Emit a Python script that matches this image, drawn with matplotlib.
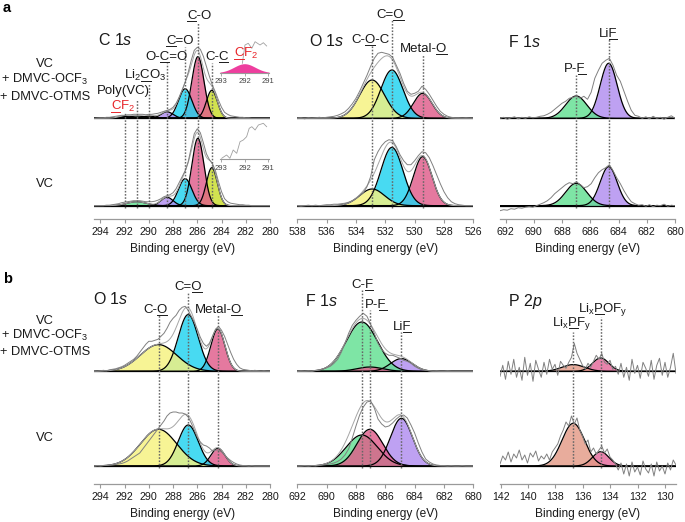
#!/usr/bin/env python3
"""XPS fits (C 1s, O 1s, F 1s, P 2p) for VC vs VC + DMVC-OCF3 + DMVC-OTMS."""

import numpy as np
import matplotlib
matplotlib.use("Agg")
import matplotlib.pyplot as plt
from matplotlib.lines import Line2D

W, H = 685, 522

plt.rcParams["font.family"] = ["Liberation Sans", "DejaVu Sans"]
plt.rcParams["mathtext.fontset"] = "custom"
plt.rcParams["mathtext.rm"] = "Liberation Sans"
plt.rcParams["mathtext.it"] = "Liberation Sans:italic"
plt.rcParams["mathtext.bf"] = "Liberation Sans:bold"

# intensities are read off the picture, in px above each spectrum's baseline
# components are listed in drawing order (later ones sit on top)

# ---- a, C 1s ----
c1s_center = [284.8, 285.95, 287.0, 288.5, 290.0, 291.0, 292.0]
c1s_sigma = [0.45, 0.5, 0.55, 0.5, 0.55, 0.8, 0.5]
c1s_top = [28, 61.7, 29.5, 6.5, 2.2, 2.2, 1.8]
c1s_bot = [38, 67.4, 27, 8.4, 0, 4, 0]
c1s_color = ["#c9dc2a", "#e05c8a", "#20d2f0", "#b08cf0", "#f2ec70", "#62e092", "#c8187a"]
c1s_guide_top = [63, 22, 47, 63, 83, 100, 113]
c1s_raw_top = [0, 0.3, 0.5, 0.5, 1, 1, 1.5, 2, 2.5, 3, 3, 3.5, 3.5, 4, 4, 4, 4, 3.5, 4, 4,
               4.5, 5, 6, 7, 8, 9, 11, 15, 21, 28, 36, 46, 58, 68, 71, 69, 62, 52, 42, 33,
               26, 18, 11, 6, 4, 2.5, 2, 1.5, 1, 1, 0.5, 0.5, 0, 0, 0, 0, 0, 0, 0]
c1s_raw_bot = [0, 0, 0, 0, 0.5, 0.5, 1, 1.5, 2, 3, 3.5, 4, 4.5, 5, 5, 5, 4.5, 4, 4, 4,
               4.5, 5.5, 7, 9, 10, 11, 13, 17, 23, 29, 35, 44, 58, 72, 77, 73, 63, 52, 46, 42,
               35, 24, 14, 7, 4, 2.5, 2, 1.5, 1, 1, 0.5, 0.5, 0, 0, 0, 0, 0, 0, 0]

# C 1s insets (293-291 eV)
ins_cf2_center, ins_cf2_sigma, ins_cf2_h = 292.0, 0.45, 9.0
ins_top_e = [292.09, 291.98, 291.84, 291.69, 291.55, 291.34, 291.2, 291.06]
ins_top_h = [9.4, 27.7, 29.4, 24.4, 31, 27.7, 30, 26.7]
ins_bot_e = [292.97, 292.76, 292.62, 292.48, 292.33, 292.19, 292.05, 291.91, 291.8,
             291.69, 291.55, 291.41, 291.2, 291.06]
ins_bot_h = [0.7, 4, 0.7, 9, 5.7, 17.3, 19, 22.3, 30.7, 32.3, 29, 34, 35.7, 32.3]

# ---- a, O 1s ----
o1a_center = [529.45, 531.55, 532.9]
o1a_sigma = [0.63, 0.75, 0.85]
o1a_top = [25, 48.3, 38.3]
o1a_bot = [49, 58.3, 16.7]
o1a_color = ["#e05c8a", "#20d2f0", "#f6f27e"]
o1a_guide_top = [54, 20, 45]
o1a_raw_top = [0, 0.5, -0.5, 0.5, 0, 0.5, 1, 0.5, 1, 1.5, 2, 3, 4.5, 6.5, 10, 14.5, 20,
               27, 35, 43, 52, 60, 65, 66, 65, 64, 61, 53, 45, 35, 27, 24, 25, 27, 32, 29,
               24, 18, 12, 7, 4, 2, 1, 0.5, 0.5, 0, 0.5, 0, 0]
o1a_raw_bot = [0, -0.5, 0, 0.5, 0, 0.5, 0, 0.5, 1, 1, 1.5, 1.5, 2, 2.5, 3.5, 5, 7, 10,
               13, 19, 29, 46, 54, 60, 64, 66, 65, 59, 51, 45, 41, 41, 45, 50, 54, 53, 48,
               40, 31, 22, 14, 8, 4, 2, 1, 0.5, 0, 0, 0]

# ---- a, F 1s ----
f1a_center = [684.7, 687.0]
f1a_sigma = [0.6, 0.75]
f1a_top = [55, 22.3]
f1a_bot = [39, 22.4]
f1a_color = ["#b08cf0", "#62e092"]
f1a_guide_top = [39, 75]
f1a_raw_top = [0, 1, -1, 0.5, 1.5, -0.5, 1, 0, 1.5, 0.5, 1, 2, 2.5, 4, 6, 9, 12, 15, 17,
               20, 21, 22, 20, 22, 19, 26, 40, 48, 55, 58, 60, 53, 43, 37, 27, 17, 8, 3, 2,
               0, 1.5, -0.5, 2, 0, 1, -1, 1, 2.5, 0]
f1a_raw_bot = [-5, -4, -4.5, -3, -3.5, -2, -2.5, -1.5, -1, -1.5, 0, 1.5, 3, 5, 8, 12, 15,
               18, 21, 23, 22, 24, 21, 18, 19, 22, 28, 33, 36, 38, 41, 35, 28, 22, 15, 9, 4,
               2, 0.5, 1, -0.5, 1, -1, 0.5, 0, 1.5, -0.5, 0.5, 0]

# ---- b, O 1s ----
o1b_center = [284.3, 286.75, 289.2]
o1b_sigma = [0.58, 0.82, 1.5]
o1b_top = [42.4, 56.7, 26.7]
o1b_bot = [17.7, 41, 36.7]
o1b_color = ["#e05c8a", "#20d2f0", "#f6f27e"]
o1b_guide_top = [315, 292, 315]
o1b_raw_top = [0.5, 0, 0.5, 1, 0.5, 1.5, 2, 2.5, 3.5, 4.5, 6, 8, 10, 12, 15, 19, 23, 27,
               30, 30, 31, 32, 35, 38, 43, 49, 53, 56, 61, 64, 65, 61, 55, 49, 42, 34, 28,
               25, 28, 35, 42, 45, 41, 35, 27, 19, 12, 7, 3.5, 2, 1.5, 1, 0.5, 1, 0.5, 0,
               0.5, 0, 0]
o1b_raw_bot = [0, 0.5, 0, 0.5, 0.5, 1, 1, 1.5, 2, 2.5, 3.5, 5, 7, 9, 11, 13, 17, 21, 25,
               29, 33, 37, 41, 45, 50, 53, 54, 54, 53, 53, 52, 49, 43, 36, 29, 24, 21, 20,
               18, 15, 16, 16, 14, 11, 8, 5.5, 3.5, 2, 1, 0.5, 0.5, 0, 0.5, 0, 0, 0, 0, 0, 0]

# ---- b, F 1s ----
f1b_center = [684.9, 687.6, 687.05]
f1b_sigma = [0.75, 1.07, 0.88]
f1b_top = [12.7, 49.3, 4.3]
f1b_bot = [47.7, 31, 36.7]
f1b_color = ["#b08cf0", "#62e092", "#e05c8a"]
f1b_guide_top = [332, 290, 310]
f1b_raw_top = [0, 0.5, 0, 0.5, 0, 1, 1.5, 2.5, 3.5, 5, 8, 12, 19, 28, 38, 46, 51, 55, 58,
               55, 47, 38, 28, 22, 18, 16, 16, 14.5, 13, 11, 10, 8, 5, 3, 1.5, 1, 0.5, 0,
               0.5, 0, 0, 0.5, 0, 0, 0, 0, 0, 0, 0]
f1b_raw_bot = [0, 0, 0.5, 0, 0.5, 0, 0.5, 1, 1.5, 2, 3, 4.5, 7, 11, 17, 28, 40, 51, 59,
               64, 65, 58, 47, 42, 39, 40, 43, 47, 50, 51, 48, 41, 33, 23, 14, 7, 4, 2, 1,
               0.5, 0.5, 0, 0.5, 0, 0, 0.5, 0, 0, 0]

# ---- b, P 2p ----
p2p_center = [134.7, 136.7]
p2p_sigma = [0.6, 0.82]
p2p_top = [13.3, 6.7]
p2p_bot = [14.3, 42.7]
p2p_color = ["#e4689a", "#e49a86"]
p2p_guide_top = [317, 332]
p2p_raw_top = [-5, 6, -8, 10, -3, 12, -6, 4, -9, 14, -4, 8, -10, 11, 2, -6,
               9, -3, 12, 2, 7, -4, 10,
               6, 3, 9, 14, 28, 18, 12, 6,
               2, 8, 4, 10, 16, 12, 18, 9, 7, 11, 2, 5,
               -3, 8, -6, 4, -9, 12, -2, 6, -7, 9, 3, -5, 11, -8, 6, 13, -4, 9, -6, 4, 18, -2]
p2p_raw_bot = [2, 10, 6, 14, 4, 12, 8, 16, 6, 11, 3, 13, 9, 15, 5, 10,
               7, 12, 6, 14, 18, 22, 30,
               36, 44, 40, 50, 42, 48, 36, 30,
               22, 26, 14, 18, 12, 16, 20, 13, 17, 9, 6, 2,
               -4, 3, -8, 2, -10, 4, -6, -1, -9, 5, -3, -7, 2, -10, 4, -5, 0, -8, 3, -4, 6, 1]

TXT = "#1a1a1a"
RED = "#e8252a"
PEAK_FS = 9.5
TITLE_FS = 11.5

fig = plt.figure(figsize=(W / 100, H / 100), dpi=100)
renderer = fig.canvas.get_renderer()


def fx(x):
    return x / W


def fy(y):
    return 1 - y / H


def text_width(s, size):
    t = fig.text(0, 0, s, fontsize=size)
    w = t.get_window_extent(renderer).width
    t.remove()
    return w


def label(x, y, s, size=PEAK_FS, color=TXT, ha="center"):
    """Text at px (x, y baseline); characters in [..] are underlined."""
    parts = []
    for i, chunk in enumerate(s.replace("]", "[").split("[")):
        parts.append((chunk, i % 2 == 1))
    plain = "".join(p for p, _ in parts)
    t = fig.text(fx(x), fy(y), plain, ha=ha, va="baseline", fontsize=size, color=color)
    bb = t.get_window_extent(renderer)
    pre = ""
    for p, ul in parts:
        if ul:
            x0 = bb.x0 + (text_width(pre, size) if pre else 0)
            x1 = bb.x0 + text_width(pre + p, size)
            yy = fy(y) - 1.8 / H
            fig.add_artist(Line2D([x0 / W, x1 / W], [yy, yy], transform=fig.transFigure,
                                  color=color, lw=0.7))
        pre += p
    return t


def panel(left, right, top, bottom, base_lo, xlim, ticks):
    ax = fig.add_axes([fx(left), fy(bottom), (right - left) / W, (bottom - top) / H])
    ax.set_xlim(xlim)
    ax.set_ylim(base_lo - bottom, base_lo - top)
    for side in ("top", "right", "left"):
        ax.spines[side].set_visible(False)
    ax.spines["bottom"].set_color("#9a9a9a")
    ax.spines["bottom"].set_linewidth(0.9)
    ax.set_yticks([])
    ax.set_xticks(ticks)
    ax.tick_params(axis="x", colors="#9a9a9a", labelcolor=TXT, labelsize=7.7, length=3,
                   width=0.8, pad=2.5)
    ax.set_xlabel("Binding energy (eV)", fontsize=8.6, labelpad=4.5, color=TXT)
    ax.patch.set_visible(False)
    return ax


def spectrum(ax, y0, centers, sigmas, heights, colors, raw, envelope=True):
    lo, hi = ax.get_xlim()
    e = np.linspace(lo, hi, 800)
    total = np.zeros_like(e)
    for c, s, h, col in zip(centers, sigmas, heights, colors):
        if h <= 0:
            continue
        g = h * np.exp(-0.5 * ((e - c) / s) ** 2)
        total += g
        ax.fill_between(e, y0, y0 + g, color=col, alpha=0.82, lw=0, zorder=2)
        ax.plot(e, y0 + g, color="black", lw=0.9, zorder=3)
    ax.axhline(y0, color="black", lw=0.9, zorder=3)
    if envelope:
        ax.plot(e, y0 + total, color="#a6a6a6", lw=0.7, zorder=4)
    er = np.linspace(lo, hi, len(raw))
    ax.plot(er, y0 + np.asarray(raw), color="#808080", lw=0.7, zorder=4)


def guides(ax, centers, tops, base_lo):
    for c, t in zip(centers, tops):
        ax.plot([c, c], [-2, base_lo - t], color="#666666", lw=1.05,
                ls=(0, (1.1, 1.1)), zorder=6)


# ---------------- row a ----------------
A_LO, A_HI, A_AX, A_TOP = 205.7, 118.3, 219, 5
B_LO, B_HI, B_AX, B_TOP = 466, 371.3, 484, 270

ax = panel(94.3, 270, A_TOP, A_AX, A_LO, (294.5, 280), range(294, 279, -2))
spectrum(ax, A_LO - A_HI, c1s_center, c1s_sigma, c1s_top, c1s_color, c1s_raw_top)
spectrum(ax, 0, c1s_center, c1s_sigma, c1s_bot, c1s_color, c1s_raw_bot)
guides(ax, c1s_center, c1s_guide_top, A_LO)

ax = panel(297.3, 473.3, A_TOP, A_AX, A_LO, (538, 526), range(538, 525, -2))
spectrum(ax, A_LO - A_HI, o1a_center, o1a_sigma, o1a_top, o1a_color, o1a_raw_top)
spectrum(ax, 0, o1a_center, o1a_sigma, o1a_bot, o1a_color, o1a_raw_bot)
guides(ax, o1a_center, o1a_guide_top, A_LO)

ax = panel(500, 675, A_TOP, A_AX, A_LO, (692.4, 680), range(692, 679, -2))
spectrum(ax, A_LO - A_HI, f1a_center, f1a_sigma, f1a_top, f1a_color, f1a_raw_top, False)
spectrum(ax, 0, f1a_center, f1a_sigma, f1a_bot, f1a_color, f1a_raw_bot, False)
guides(ax, f1a_center, f1a_guide_top, A_LO)

# C 1s insets
for top, bottom, pts_e, pts_h, peak in ((40, 72.7, ins_top_e, ins_top_h, True),
                                        (118, 159, ins_bot_e, ins_bot_h, False)):
    ins = fig.add_axes([fx(220), fy(bottom), 49 / W, (bottom - top) / H])
    ins.set_xlim(293.04, 290.96)
    ins.set_ylim(0, bottom - top)
    for side in ("top", "right", "left"):
        ins.spines[side].set_visible(False)
    ins.spines["bottom"].set_color("#9a9a9a")
    ins.spines["bottom"].set_linewidth(0.8)
    ins.set_yticks([])
    ins.set_xticks([293, 292, 291])
    ins.tick_params(axis="x", colors="#9a9a9a", labelcolor="#444444", labelsize=5.5,
                    length=2, width=0.6, pad=2)
    ins.patch.set_visible(False)
    if peak:
        e = np.linspace(293.04, 290.96, 200)
        g = ins_cf2_h * np.exp(-0.5 * ((e - ins_cf2_center) / ins_cf2_sigma) ** 2)
        ins.fill_between(e, 0, g, color="#ee3e9e", lw=0)
    ins.plot(pts_e, pts_h, color="#a0a0a0", lw=0.6, clip_on=False)

# ---------------- row b ----------------
ax = panel(94.3, 270, B_TOP, B_AX, B_LO, (294.5, 280), range(294, 279, -2))
spectrum(ax, B_LO - B_HI, o1b_center, o1b_sigma, o1b_top, o1b_color, o1b_raw_top)
spectrum(ax, 0, o1b_center, o1b_sigma, o1b_bot, o1b_color, o1b_raw_bot)
guides(ax, o1b_center, o1b_guide_top, B_LO)

ax = panel(297.3, 473.3, B_TOP, B_AX, B_LO, (692, 680), range(692, 679, -2))
spectrum(ax, B_LO - B_HI, f1b_center, f1b_sigma, f1b_top, f1b_color, f1b_raw_top)
spectrum(ax, 0, f1b_center, f1b_sigma, f1b_bot, f1b_color, f1b_raw_bot)
guides(ax, f1b_center, f1b_guide_top, B_LO)

ax = panel(500, 676, B_TOP, B_AX, B_LO, (142.05, 129.2), range(142, 129, -2))
spectrum(ax, B_LO - B_HI, p2p_center, p2p_sigma, p2p_top, p2p_color, p2p_raw_top, False)
spectrum(ax, 0, p2p_center, p2p_sigma, p2p_bot, p2p_color, p2p_raw_bot, False)
guides(ax, p2p_center, p2p_guide_top, B_LO)

# ---------------- text ----------------
fig.text(fx(6.5), fy(12), "a", fontsize=10.5, fontweight="bold", ha="center", va="baseline")
fig.text(fx(7.5), fy(283), "b", fontsize=10.5, fontweight="bold", ha="center", va="baseline")

for y_vc, y1, y2, y_vc2 in ((67, 83, 100, 187), (324, 339, 355, 441)):
    label(45, y_vc, "VC", size=9.3)
    label(45, y1, "+ DMVC-OCF$_3$", size=9.3)
    label(45, y2, "+ DMVC-OTMS", size=9.3)
    label(45, y_vc2, "VC", size=9.3)

# panel titles
label(98, 45, r"C 1$\mathit{s}$", size=TITLE_FS, ha="left")
label(309, 46, r"O 1$\mathit{s}$", size=TITLE_FS, ha="left")
label(508, 47, r"F 1$\mathit{s}$", size=TITLE_FS, ha="left")
label(93, 304, r"O 1$\mathit{s}$", size=TITLE_FS, ha="left")
label(305, 306, r"F 1$\mathit{s}$", size=TITLE_FS, ha="left")
label(508, 306, r"P 2$\mathit{p}$", size=TITLE_FS, ha="left")

# peak labels
label(199, 19, "[C]-O")
label(180, 44, "[C]=O")
label(166, 60, "O-[C]=O")
label(216.7, 60, "C-[C]")
label(145, 79, "Li$_2$[C]O$_3$")
label(123, 94, "Poly(VC)")
label(123, 110, "[C]F$_2$", color=RED)
label(246.7, 57, "[C]F$_2$", color=RED)

label(370, 43, "C-[O]-C")
label(390, 18, "C=[O]")
label(423, 52, "Metal-[O]")

label(575, 72, "P-[F]")
label(608, 37, "Li[F]")

label(155, 313, "C-[O]")
label(188, 290, "C=[O]")
label(218, 313, "Metal-[O]")

label(362, 288, "C-[F]")
label(376, 308, "P-[F]")
label(402, 330, "Li[F]")

label(572, 326, r"Li$_\mathrm{x}$[P]F$_\mathrm{y}$")
label(603, 312, r"Li$_\mathrm{x}$[P]OF$_\mathrm{y}$")

fig.savefig("out.png", dpi=100)
